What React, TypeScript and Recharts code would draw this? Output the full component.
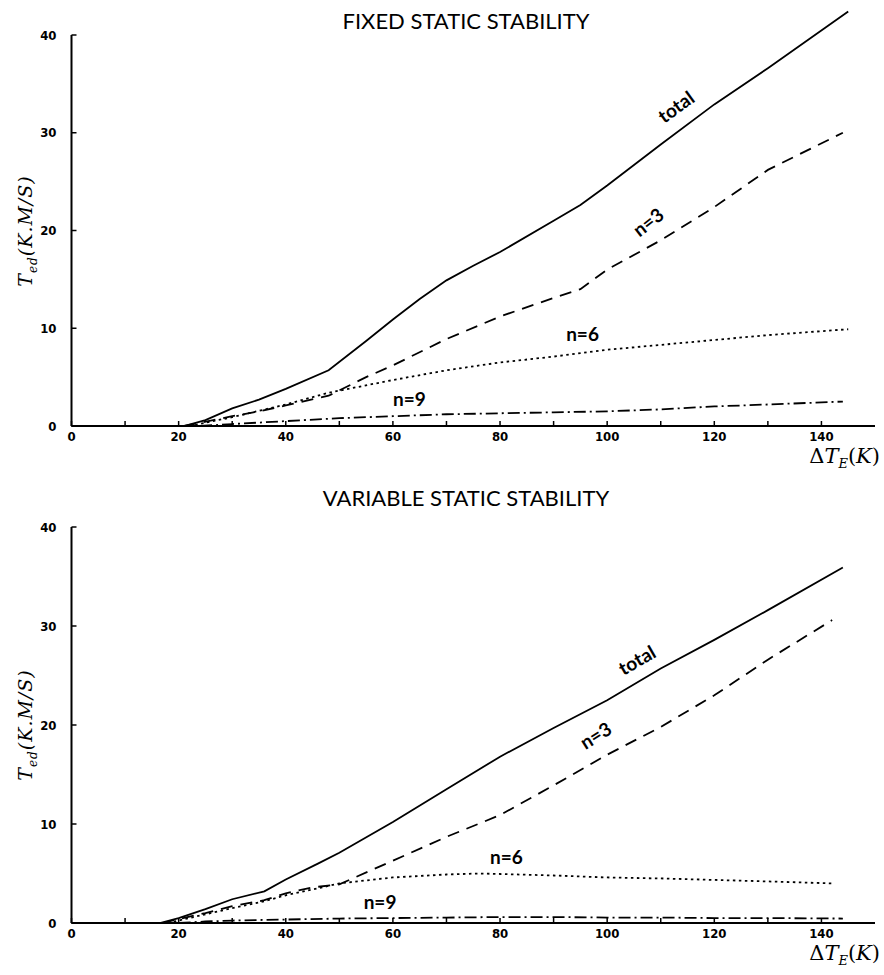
import { LineChart, Line, XAxis, YAxis, ReferenceDot, ReferenceLine } from "recharts";

type Pt = [number, number];

// axis ticks
const xTicks = [0, 10, 20, 30, 40, 50, 60, 70, 80, 90, 100, 110, 120, 130, 140];
const xTickLabels = [0, 20, 40, 60, 80, 100, 120, 140];
const yTicks = [0, 10, 20, 30, 40];

// fixed static stability  [ΔT_E, T_ed]
const fixedTotal: Pt[] = [
  [0, 0], [21, 0], [25, 0.6], [30, 1.8], [35, 2.7], [40, 3.8], [48, 5.7], [55, 8.7], [60, 10.9],
  [65, 13.0], [70, 14.9], [75, 16.4], [80, 17.8], [90, 21.0], [95, 22.6], [100, 24.6],
  [110, 28.8], [120, 32.9], [130, 36.6], [145, 42.4],
];
const fixedN3: Pt[] = [
  [21, 0], [30, 1.0], [35, 1.5], [40, 2.1], [48, 3.1], [55, 5.0], [60, 6.2], [70, 8.9],
  [80, 11.2], [90, 13.1], [95, 14.0], [100, 16.0], [110, 19.0], [120, 22.4], [130, 26.2], [144, 30.0],
];
const fixedN6: Pt[] = [
  [22, 0], [30, 0.9], [40, 2.2], [48, 3.4], [60, 4.7], [70, 5.7], [80, 6.5], [90, 7.1],
  [100, 7.8], [110, 8.3], [120, 8.8], [130, 9.3], [145, 9.9],
];
const fixedN9: Pt[] = [
  [24, 0], [30, 0.2], [40, 0.5], [50, 0.8], [60, 1.0], [70, 1.2], [80, 1.3], [90, 1.4],
  [100, 1.5], [110, 1.7], [120, 2.0], [130, 2.2], [144, 2.5],
];

// variable static stability
const varTotal: Pt[] = [
  [0, 0], [16.5, 0], [20, 0.5], [25, 1.4], [30, 2.4], [36, 3.2], [40, 4.4], [46, 6.0], [50, 7.1],
  [60, 10.2], [70, 13.5], [80, 16.8], [90, 19.7], [100, 22.5], [110, 25.7], [120, 28.6],
  [130, 31.6], [144, 35.9],
];
const varN3: Pt[] = [
  [17, 0], [20, 0.4], [25, 1.0], [30, 1.7], [36, 2.3], [40, 3.0], [45, 3.6], [50, 3.9],
  [60, 6.3], [70, 8.7], [80, 10.9], [90, 13.9], [100, 17.0], [110, 19.8], [120, 23.0],
  [130, 26.6], [142, 30.6],
];
const varN6: Pt[] = [
  [18, 0], [22, 0.5], [30, 1.5], [36, 2.2], [40, 2.8], [46, 3.5], [50, 4.0], [55, 4.3],
  [60, 4.6], [70, 4.9], [76, 5.0], [80, 4.95], [90, 4.8], [100, 4.6], [110, 4.5],
  [120, 4.35], [130, 4.2], [142, 4.0],
];
const varN9: Pt[] = [
  [20, 0], [25, 0.15], [30, 0.25], [40, 0.35], [50, 0.45], [60, 0.5], [70, 0.55], [80, 0.6],
  [90, 0.6], [100, 0.55], [110, 0.55], [120, 0.5], [130, 0.5], [144, 0.45],
];

// curve labels: [x, y, text, angle]
const fixedLabels: [number, number, string, number][] = [
  [112.8, 32.7, "total", -36],
  [107.6, 20.9, "n=3", -38],
  [95.4, 9.5, "n=6", 0],
  [63.1, 2.8, "n=9", 0],
];
const varLabels: [number, number, string, number][] = [
  [105.5, 26.6, "total", -30],
  [97.8, 19.0, "n=3", -32],
  [81.2, 6.7, "n=6", 0],
  [57.6, 2.15, "n=9", 0],
];

const DASH = { total: undefined, n3: "12 8", n6: "2.5 3.5", n9: "12 4 2 4" };

const tickStyle = {
  fill: "#000",
  fontSize: 13,
  fontWeight: 700,
  fontFamily: "'DejaVu Sans Condensed', 'DejaVu Sans', sans-serif",
};

const toRows = (pts: Pt[]) => pts.map(([x, y]) => ({ x, y }));

function Panel(props: {
  title: string;
  titleY: number;
  top: number;
  height: number;
  marginTop: number;
  marginBottom: number;
  yMax: number;
  lines: [Pt[], string | undefined][];
  labels: [number, number, string, number][];
}) {
  const { title, titleY, top, height, marginTop, marginBottom, yMax, lines, labels } = props;
  const plotBottom = height - marginBottom - 30;
  const plotTop40 = plotBottom - ((plotBottom - marginTop) * 40) / yMax;
  return (
    <div style={{ position: "absolute", left: 0, top, width: 884, height }}>
      <LineChart
        width={884}
        height={height}
        margin={{ top: marginTop, right: 9, bottom: marginBottom, left: 21.5 }}
      >
        <XAxis
          type="number"
          dataKey="x"
          domain={[0, 150]}
          ticks={xTicks}
          interval={0}
          tickFormatter={(v: number) => (xTickLabels.includes(v) ? String(v) : "")}
          tickSize={-5}
          tickMargin={11}
          tickLine={{ stroke: "#000", strokeWidth: 1.5 }}
          axisLine={{ stroke: "#000", strokeWidth: 2 }}
          tick={tickStyle}
        />
        <YAxis
          type="number"
          dataKey="y"
          domain={[0, yMax]}
          ticks={yTicks}
          interval={0}
          width={50}
          tickSize={-5}
          tickMargin={20}
          tickLine={{ stroke: "#000", strokeWidth: 1.5 }}
          axisLine={false}
          tick={tickStyle}
        />
        <ReferenceLine
          segment={[{ x: 0, y: 0 }, { x: 0, y: 40 }]}
          stroke="#000"
          strokeWidth={2}
          ifOverflow="visible"
        />
        {lines.map(([pts, dash], i) => (
          <Line
            key={i}
            data={toRows(pts)}
            dataKey="y"
            type="linear"
            stroke="#000"
            strokeWidth={1.8}
            strokeDasharray={dash}
            dot={false}
            activeDot={false}
            isAnimationActive={false}
          />
        ))}
        {labels.map(([x, y, text, angle], i) => (
          <ReferenceDot
            key={"l" + i}
            x={x}
            y={y}
            r={0}
            ifOverflow="visible"
            shape={(p: any) => (
              <text
                x={p.cx}
                y={p.cy}
                textAnchor="middle"
                dominantBaseline="central"
                transform={`rotate(${angle} ${p.cx} ${p.cy})`}
                style={{ fontFamily: "Lato, 'Open Sans', sans-serif", fontWeight: 700, fontSize: 19, fill: "#000" }}
              >
                {text}
              </text>
            )}
          />
        ))}
      </LineChart>
      <div
        style={{
          position: "absolute",
          left: 466,
          top: titleY - top,
          transform: "translate(-50%, -50%)",
          fontFamily: "Lato, 'Open Sans', sans-serif",
          fontSize: 22,
          whiteSpace: "nowrap",
          color: "#000",
        }}
      >
        {title}
      </div>
      <div
        style={{
          position: "absolute",
          left: 27,
          top: (plotTop40 + plotBottom) / 2,
          transform: "translate(-50%, -50%) rotate(-90deg)",
          fontFamily: "'DejaVu Serif', serif",
          fontStyle: "italic",
          fontSize: 19,
          letterSpacing: 1,
          whiteSpace: "nowrap",
          color: "#000",
        }}
      >
        T<sub style={{ fontSize: 12 }}>ed</sub>(K.M/S)
      </div>
      <div
        style={{
          position: "absolute",
          right: 4,
          top: plotBottom + 20,
          fontFamily: "'DejaVu Serif', serif",
          fontSize: 21,
          whiteSpace: "nowrap",
          color: "#000",
          lineHeight: 1,
        }}
      >
        Δ<i>T</i>
        <sub style={{ fontSize: 13, fontStyle: "italic", lineHeight: 0 }}>E</sub>(<i>K</i>)
      </div>
    </div>
  );
}

export default function App() {
  return (
    <div style={{ position: "absolute", left: 0, top: 0, width: 884, height: 975, background: "#fff" }}>
      <Panel
        title="FIXED STATIC STABILITY"
        titleY={20}
        top={0}
        height={480}
        marginTop={5.675}
        marginBottom={24}
        yMax={43}
        lines={[
          [fixedTotal, DASH.total],
          [fixedN3, DASH.n3],
          [fixedN6, DASH.n6],
          [fixedN9, DASH.n9],
        ]}
        labels={fixedLabels}
      />
      <Panel
        title="VARIABLE STATIC STABILITY"
        titleY={497}
        top={480}
        height={495}
        marginTop={47}
        marginBottom={22}
        yMax={40}
        lines={[
          [varTotal, DASH.total],
          [varN3, DASH.n3],
          [varN6, DASH.n6],
          [varN9, DASH.n9],
        ]}
        labels={varLabels}
      />
    </div>
  );
}
